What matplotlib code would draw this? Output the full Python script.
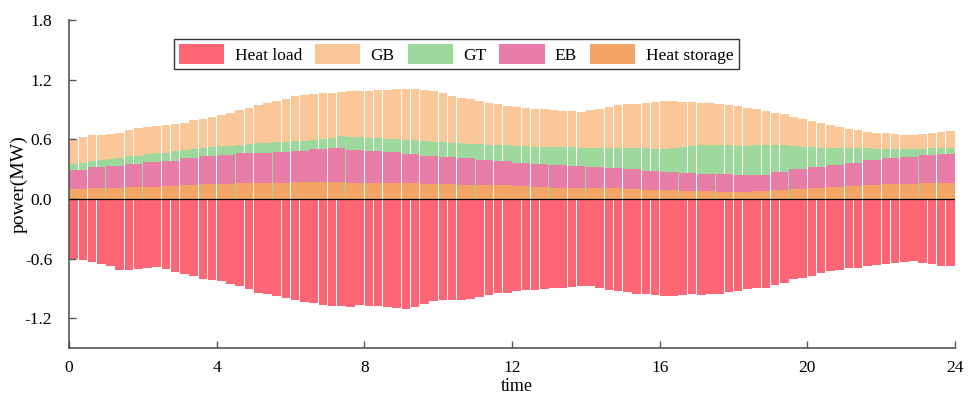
"""Hourly heat balance: unit outputs stacked above zero, heat load mirrored below."""

import matplotlib.pyplot as plt
import numpy as np
from matplotlib.patches import Patch

plt.rcParams["font.family"] = ["Liberation Serif", "DejaVu Serif"]

# 15-min resolution (96 steps)
heat_load = [
    0.600, 0.610, 0.630, 0.650, 0.670, 0.710, 0.715, 0.705, 0.690, 0.685, 0.700, 0.735,
    0.760, 0.780, 0.805, 0.817, 0.830, 0.860, 0.873, 0.910, 0.943, 0.958, 0.978, 1.000,
    1.017, 1.040, 1.050, 1.063, 1.073, 1.080, 1.083, 1.067, 1.080, 1.080, 1.090, 1.100,
    1.110, 1.090, 1.055, 1.027, 1.017, 1.020, 1.015, 1.003, 0.983, 0.963, 0.950, 0.943,
    0.930, 0.918, 0.915, 0.903, 0.893, 0.892, 0.885, 0.874, 0.880, 0.900, 0.915, 0.925,
    0.940, 0.958, 0.960, 0.968, 0.980, 0.975, 0.967, 0.957, 0.965, 0.957, 0.955, 0.933,
    0.925, 0.903, 0.893, 0.900, 0.870, 0.850, 0.810, 0.793, 0.773, 0.745, 0.725, 0.710,
    0.693, 0.690, 0.677, 0.660, 0.657, 0.643, 0.632, 0.625, 0.640, 0.655, 0.670, 0.677,
]
gb_out = [
    0.248, 0.265, 0.257, 0.257, 0.252, 0.254, 0.267, 0.275, 0.271, 0.273, 0.278, 0.277,
    0.272, 0.288, 0.291, 0.300, 0.313, 0.337, 0.348, 0.365, 0.383, 0.400, 0.417, 0.433,
    0.453, 0.462, 0.467, 0.466, 0.460, 0.446, 0.454, 0.463, 0.475, 0.485, 0.493, 0.503,
    0.510, 0.517, 0.517, 0.513, 0.492, 0.473, 0.455, 0.450, 0.440, 0.425, 0.411, 0.400,
    0.395, 0.388, 0.383, 0.378, 0.376, 0.367, 0.362, 0.359, 0.376, 0.393, 0.418, 0.435,
    0.439, 0.449, 0.457, 0.467, 0.483, 0.475, 0.457, 0.437, 0.424, 0.420, 0.415, 0.407,
    0.400, 0.383, 0.365, 0.345, 0.324, 0.310, 0.290, 0.277, 0.258, 0.243, 0.228, 0.211,
    0.184, 0.178, 0.168, 0.160, 0.153, 0.145, 0.140, 0.135, 0.147, 0.153, 0.160, 0.168,
]
gt_out = [
    0.067, 0.070, 0.066, 0.073, 0.072, 0.080, 0.075, 0.082, 0.082, 0.090, 0.080, 0.093,
    0.085, 0.092, 0.087, 0.093, 0.083, 0.086, 0.087, 0.095, 0.093, 0.098, 0.097, 0.104,
    0.099, 0.102, 0.090, 0.097, 0.100, 0.120, 0.138, 0.130, 0.135, 0.130, 0.137, 0.132,
    0.144, 0.137, 0.150, 0.144, 0.153, 0.147, 0.152, 0.145, 0.157, 0.152, 0.162, 0.160,
    0.168, 0.163, 0.170, 0.170, 0.181, 0.180, 0.190, 0.188, 0.197, 0.197, 0.205, 0.203,
    0.216, 0.214, 0.230, 0.228, 0.237, 0.240, 0.260, 0.275, 0.293, 0.293, 0.292, 0.290,
    0.298, 0.300, 0.297, 0.302, 0.276, 0.273, 0.235, 0.228, 0.199, 0.194, 0.174, 0.174,
    0.149, 0.145, 0.116, 0.114, 0.097, 0.095, 0.073, 0.078, 0.068, 0.072, 0.060, 0.060,
]

# 30-min resolution (48 steps)
eb_out = [
    0.190, 0.210, 0.220, 0.233, 0.247, 0.254, 0.270, 0.280, 0.297, 0.303, 0.310, 0.313,
    0.316, 0.336, 0.343, 0.327, 0.320, 0.310, 0.296, 0.283, 0.270, 0.267, 0.253, 0.240,
    0.237, 0.234, 0.230, 0.217, 0.210, 0.200, 0.197, 0.187, 0.180, 0.180, 0.170, 0.177,
    0.164, 0.163, 0.177, 0.200, 0.213, 0.220, 0.234, 0.253, 0.263, 0.277, 0.283, 0.297,
]
storage_out = [
    0.100, 0.107, 0.113, 0.120, 0.123, 0.133, 0.140, 0.150, 0.150, 0.157, 0.157, 0.160,
    0.167, 0.167, 0.167, 0.163, 0.160, 0.160, 0.157, 0.150, 0.150, 0.143, 0.140, 0.140,
    0.130, 0.123, 0.113, 0.113, 0.110, 0.107, 0.100, 0.093, 0.090, 0.080, 0.080, 0.073,
    0.073, 0.080, 0.093, 0.100, 0.110, 0.123, 0.133, 0.140, 0.147, 0.150, 0.157, 0.160,
]

COLORS = {
    "Heat load":    "#FF6675",
    "GB":           "#FAC798",
    "GT":           "#9DD89D",
    "EB":           "#E87EA8",
    "Heat storage": "#F2A565",
}

fine_dt = 24 / len(heat_load)
coarse_dt = 24 / len(eb_out)
t_fine = np.arange(len(heat_load)) * fine_dt + fine_dt / 2
t_coarse = np.arange(len(eb_out)) * coarse_dt + coarse_dt / 2

storage = np.array(storage_out)
eb_top = storage + np.array(eb_out)
eb_top_fine = np.repeat(eb_top, 2)
gt_top = eb_top_fine + np.array(gt_out)
gb_top = gt_top + np.array(gb_out)

fig = plt.figure(figsize=(9.68, 3.95), dpi=100)
ax = fig.add_axes([0.0713, 0.119, 0.9153, 0.830])

fw = fine_dt * 0.93
ax.bar(t_fine, gb_top, width=fw, color=COLORS["GB"], linewidth=0)
ax.bar(t_fine, gt_top, width=fw, color=COLORS["GT"], linewidth=0)
ax.bar(t_coarse, eb_top, width=coarse_dt * 0.95, color=COLORS["EB"], linewidth=0)
ax.bar(t_coarse, storage, width=coarse_dt * 0.95, color=COLORS["Heat storage"], linewidth=0)
ax.bar(t_fine, -np.array(heat_load), width=fw, color=COLORS["Heat load"], linewidth=0)
ax.axhline(0, color="black", linewidth=0.9)

ax.set_xlim(0, 24)
ax.set_ylim(-1.5, 1.8)
ax.set_xticks(np.arange(0, 25, 4))
ax.set_yticks([-1.2, -0.6, 0.0, 0.6, 1.2, 1.8])
ax.set_yticklabels(["-1.2", "-0.6", "0.0", "0.6", "1.2", "1.8"])
ax.tick_params(direction="in", length=5, width=1, color="#555555", labelsize=12.5)
ax.tick_params(axis="y", pad=12)
ax.tick_params(axis="x", pad=9)
for side in ("top", "right"):
    ax.spines[side].set_visible(False)
for side in ("left", "bottom"):
    ax.spines[side].set_color("#555555")
    ax.spines[side].set_linewidth(1.2)

ax.set_xlabel("time", fontsize=13)
ax.xaxis.set_label_coords(0.505, -0.093)
ax.set_ylabel("power(MW)", fontsize=14)
ax.yaxis.set_label_coords(-0.047, 0.5)

handles = [Patch(facecolor=c, edgecolor="none", label=k) for k, c in COLORS.items()]
leg = ax.legend(handles=handles, loc="center", bbox_to_anchor=(0.437, 0.896), ncol=5,
                fontsize=12.5, frameon=True, fancybox=False, edgecolor="black",
                handlelength=2.6, handleheight=1.4, columnspacing=0.75, handletextpad=0.6,
                borderpad=0.3, borderaxespad=0)
leg.get_frame().set_linewidth(1.0)

fig.savefig("out.png", dpi=100)
